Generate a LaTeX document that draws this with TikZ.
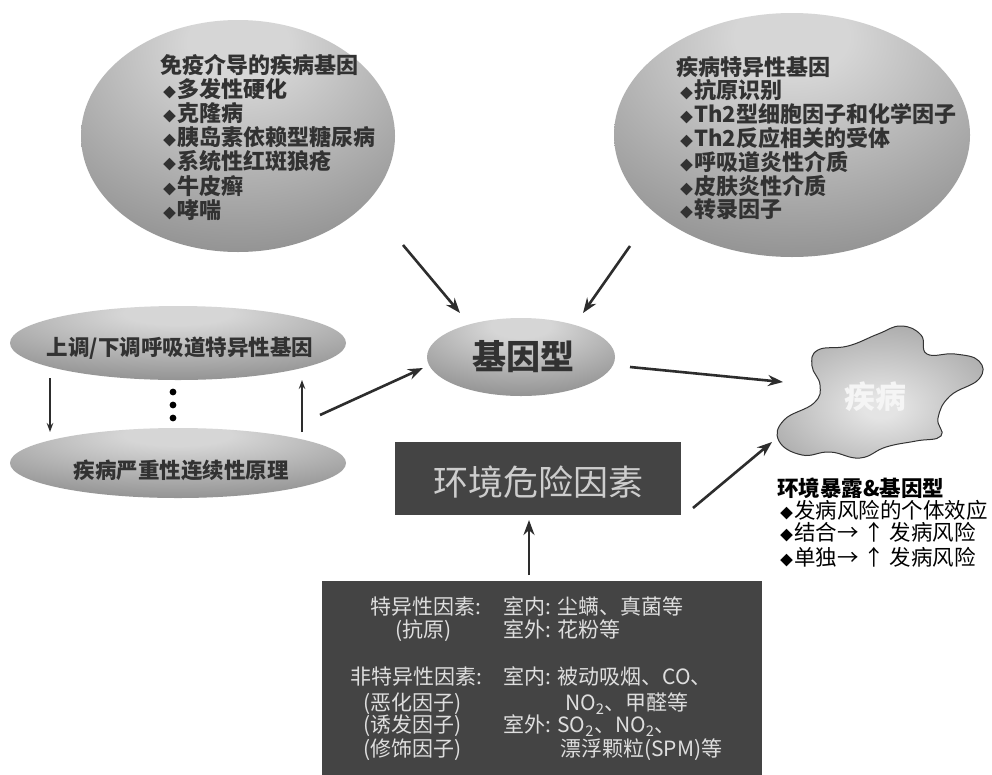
\documentclass[tikz,border=0pt]{standalone}
\usepackage{fontspec}
\setmainfont{Noto Sans CJK SC}
\usetikzlibrary{shapes.geometric,arrows.meta}
\definecolor{shlight}{RGB}{214,214,214}
\definecolor{shdark}{RGB}{84,84,84}
\definecolor{blobin}{RGB}{228,228,228}
\definecolor{blobout}{RGB}{140,140,140}
\definecolor{txtdark}{RGB}{50,50,50}
\definecolor{boxfill}{RGB}{68,68,68}
\definecolor{boxtxt}{RGB}{222,222,222}
\definecolor{envtxtc}{RGB}{205,205,205}
\definecolor{arrowc}{RGB}{45,45,45}
\pgfdeclareradialshading{ellshade}{\pgfpoint{0bp}{22bp}}{color(0bp)=(shlight); color(8bp)=(shlight); color(68bp)=(shdark); color(100bp)=(shdark)}
\pgfdeclareradialshading{blobshade}{\pgfpoint{0bp}{-6bp}}{color(0bp)=(blobin); color(4bp)=(blobin); color(45bp)=(blobout); color(90bp)=(blobout)}
\newcommand{\mybul}{{\fontsize{13}{13}\selectfont ◆}\hspace{1pt}}
\tikzset{
  ell/.style={ellipse, draw=none, shade, shading=ellshade, inner sep=0pt},
  etxt/.style={anchor=base west, inner sep=0pt, font=\fontsize{22}{22}\selectfont\bfseries, text=txtdark},
  arr/.style={line width=2.6pt, draw=arrowc, -{Stealth[length=15pt,width=11pt]}},
  sarr/.style={line width=1.2pt, draw=arrowc, -{Stealth[length=9pt,width=6.5pt]}},
  darkbox/.style={rectangle, fill=boxfill, draw=none, inner sep=0pt},
  btxt/.style={anchor=base west, inner sep=0pt, font=\fontsize{21}{21}\selectfont, text=boxtxt},
  rtxt/.style={anchor=base west, inner sep=0pt, font=\fontsize{21.5}{21.5}\selectfont, text=black}
}
\begin{document}
\begin{tikzpicture}[x=1pt,y=-1pt]
\fill[white] (0,0) rectangle (992,774);
\useasboundingbox (0,0) rectangle (992,774);

% top-left ellipse
\node[ell, minimum width=314pt, minimum height=232pt] (tl) at (238,136) {};
\node[etxt] (tl0) at (160,73) {免疫介导的疾病基因};
\node[etxt] (tl1) at (163,97.2) {\mybul 多发性硬化};
\node[etxt] (tl2) at (163,121.4) {\mybul 克隆病};
\node[etxt] (tl3) at (163,145.6) {\mybul 胰岛素依赖型糖尿病};
\node[etxt] (tl4) at (163,169.8) {\mybul 系统性红斑狼疮};
\node[etxt] (tl5) at (163,194) {\mybul 牛皮癣};
\node[etxt] (tl6) at (163,218.2) {\mybul 哮喘};

% top-right ellipse
\node[ell, minimum width=356pt, minimum height=244pt] (tr) at (792,135) {};
\node[etxt] (tr0) at (676,75) {疾病特异性基因};
\node[etxt] (tr1) at (680,98.8) {\mybul 抗原识别};
\node[etxt] (tr2) at (680,122.6) {\mybul Th2型细胞因子和化学因子};
\node[etxt] (tr3) at (680,146.4) {\mybul Th2反应相关的受体};
\node[etxt] (tr4) at (680,170.2) {\mybul 呼吸道炎性介质};
\node[etxt] (tr5) at (680,194) {\mybul 皮肤炎性介质};
\node[etxt] (tr6) at (680,217.8) {\mybul 转录因子};

% left ellipses
\node[ell, minimum width=336pt, minimum height=74pt] (up) at (178,343) {};
\node[inner sep=0pt, font=\fontsize{21.5}{21.5}\selectfont\bfseries, text=txtdark] (uptxt) at (180,348) {上调/下调呼吸道特异性基因};
\node[ell, minimum width=336pt, minimum height=70pt] (dn) at (178,463) {};
\node[inner sep=0pt, font=\fontsize{21.5}{21.5}\selectfont\bfseries, text=txtdark] (dntxt) at (181,470) {疾病严重性连续性原理};
\fill[black] (173,392) circle (3.4pt) (173,405) circle (3.4pt) (173,418) circle (3.4pt);
\coordinate (upS) at (50,378); \coordinate (dnE) at (50,432);
\coordinate (dnS) at (302,432); \coordinate (upE) at (302,380);
\draw[sarr] (upS) -- (dnE);
\draw[sarr] (dnS) -- (upE);

% genotype
\node[ell, minimum width=188pt, minimum height=78pt] (gt) at (521,357) {};
\node[inner sep=0pt, font=\fontsize{34}{34}\selectfont\bfseries, text=txtdark] (gttxt) at (523,357) {基因型};

% disease blob
\shade[shading=blobshade, draw=black!80, line width=1pt]
  plot[smooth cycle, tension=0.75] coordinates {
  (812,366) (818,350) (848,346) (878,334) (901,326) (921,335) (927,354)
  (955,354) (979,361) (979,379) (950,396) (938,418) (941,436) (916,441)
  (886,447) (860,458) (830,452) (802,455) (779,441) (784,420) (814,403) (820,385)};
\node[inner sep=0pt, font=\fontsize{31}{31}\selectfont\bfseries, text=white!92!gray] (dis) at (875,397) {疾病};

% environment box
\node[darkbox, minimum width=286pt, minimum height=73pt] (env) at (538,478.5) {};
\node[inner sep=0pt, font=\fontsize{35}{35}\selectfont, text=envtxtc] (envtxt) at (538,482) {环境危险因素};

% factor box
\node[darkbox, minimum width=440pt, minimum height=200pt, anchor=north west] (fac) at (322,581) {};
\node[btxt] (f1a) at (370,614.5) {特异性因素:};
\node[btxt] (f1b) at (503,614.5) {室内: 尘螨、真菌等};
\node[btxt] (f2a) at (395,637.5) {(抗原)};
\node[btxt] (f2b) at (503,637.5) {室外: 花粉等};
\node[btxt] (f3a) at (350,684.5) {非特异性因素:};
\node[btxt] (f3b) at (503,684.5) {室内: 被动吸烟、CO、};
\node[btxt] (f4a) at (363,710.5) {(恶化因子)};
\node[btxt] (f4b) at (565,710.5) {NO\textsubscript{2}、甲醛等};
\node[btxt] (f5a) at (363,732.5) {(诱发因子)};
\node[btxt] (f5b) at (503,732.5) {室外: SO\textsubscript{2}、NO\textsubscript{2}、};
\node[btxt] (f6a) at (363,756.5) {(修饰因子)};
\node[btxt] (f6b) at (560,756.5) {漂浮颗粒(SPM)等};

% right text
\node[rtxt, font=\fontsize{21.5}{21.5}\selectfont\bfseries] (r0) at (777,496) {环境暴露\&基因型};
\node[rtxt] (r1) at (780,518) {\mybul 发病风险的个体效应};
\node[rtxt] (r2) at (780,540) {\mybul 结合→ ↑ 发病风险};
\node[rtxt] (r3) at (780,565) {\mybul 单独→ ↑ 发病风险};

% main connectors
\coordinate (tlA) at (403,245); \coordinate (gtA) at (460,313);
\coordinate (trA) at (630,246); \coordinate (gtB) at (583,313);
\coordinate (upA) at (320,415); \coordinate (gtC) at (423,368);
\coordinate (gtD) at (630,367); \coordinate (disA) at (783,382);
\coordinate (envA) at (693,508); \coordinate (disB) at (772,442);
\coordinate (facA) at (529,575); \coordinate (envB) at (529,520);
\draw[arr] (tlA) -- (gtA);
\draw[arr] (trA) -- (gtB);
\draw[arr] (upA) -- (gtC);
\draw[arr] (gtD) -- (disA);
\draw[arr] (envA) -- (disB);
\draw[arr] (facA) -- (envB);
\end{tikzpicture}
\end{document}
